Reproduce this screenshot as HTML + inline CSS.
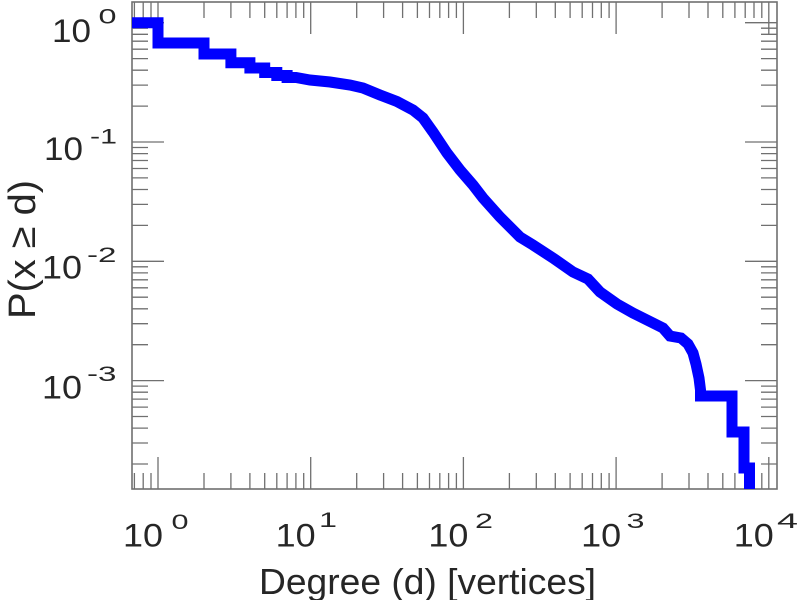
<!DOCTYPE html>
<html>
<head>
<meta charset="utf-8">
<style>
html,body{margin:0;padding:0;background:#fff;}
svg{display:block;}
text{font-family:"Liberation Sans",Arial,Helvetica,sans-serif;fill:#262626;}
</style>
</head>
<body>
<svg width="801" height="600" viewBox="0 0 801 600" xmlns="http://www.w3.org/2000/svg">
<rect x="0" y="0" width="801" height="600" fill="#fff"/>
<defs>
<clipPath id="ax"><rect x="132" y="2" width="645" height="487"/></clipPath>
</defs>

<!-- ticks -->
<g stroke="#707070" stroke-width="1.3" fill="none">
<!-- left/right majors -->
<path d="M132,22.7h32M132,142h32M132,261.3h32M132,380.6h32
M777,22.7h-32M777,142h-32M777,261.3h-32M777,380.6h-32"/>
<!-- left minors -->
<path d="M132,106.1h16M132,85.1h16M132,70.2h16M132,58.6h16M132,49.2h16M132,41.2h16M132,34.3h16M132,28.2h16
M132,225.4h16M132,204.4h16M132,189.5h16M132,177.9h16M132,168.5h16M132,160.5h16M132,153.6h16M132,147.5h16
M132,344.7h16M132,323.7h16M132,308.8h16M132,297.2h16M132,287.8h16M132,279.8h16M132,272.9h16M132,266.8h16
M132,464h16M132,443h16M132,428.1h16M132,416.5h16M132,407.1h16M132,399.1h16M132,392.2h16M132,386.1h16"/>
<!-- right minors -->
<path d="M777,106.1h-16M777,85.1h-16M777,70.2h-16M777,58.6h-16M777,49.2h-16M777,41.2h-16M777,34.3h-16M777,28.2h-16
M777,225.4h-16M777,204.4h-16M777,189.5h-16M777,177.9h-16M777,168.5h-16M777,160.5h-16M777,153.6h-16M777,147.5h-16
M777,344.7h-16M777,323.7h-16M777,308.8h-16M777,297.2h-16M777,287.8h-16M777,279.8h-16M777,272.9h-16M777,266.8h-16
M777,464h-16M777,443h-16M777,428.1h-16M777,416.5h-16M777,407.1h-16M777,399.1h-16M777,392.2h-16M777,386.1h-16"/>
<!-- bottom/top majors -->
<path d="M158,489v-32M310.7,489v-32M463.4,489v-32M616.1,489v-32M768.8,489v-32
M158,2v32M310.7,2v32M463.4,2v32M616.1,2v32M768.8,2v32"/>
<!-- bottom minors -->
<path d="M134.4,489v-16M143.2,489v-16M151,489v-16
M204,489v-16M230.9,489v-16M249.9,489v-16M264.7,489v-16M276.8,489v-16M287.1,489v-16M295.9,489v-16M303.7,489v-16
M356.7,489v-16M383.6,489v-16M402.6,489v-16M417.4,489v-16M429.5,489v-16M439.8,489v-16M448.6,489v-16M456.4,489v-16
M509.4,489v-16M536.3,489v-16M555.3,489v-16M570.1,489v-16M582.2,489v-16M592.5,489v-16M601.3,489v-16M609.1,489v-16
M662.1,489v-16M689,489v-16M708,489v-16M722.8,489v-16M734.9,489v-16M745.2,489v-16M754,489v-16M761.8,489v-16"/>
<!-- top minors -->
<path d="M134.4,2v16M143.2,2v16M151,2v16
M204,2v16M230.9,2v16M249.9,2v16M264.7,2v16M276.8,2v16M287.1,2v16M295.9,2v16M303.7,2v16
M356.7,2v16M383.6,2v16M402.6,2v16M417.4,2v16M429.5,2v16M439.8,2v16M448.6,2v16M456.4,2v16
M509.4,2v16M536.3,2v16M555.3,2v16M570.1,2v16M582.2,2v16M592.5,2v16M601.3,2v16M609.1,2v16
M662.1,2v16M689,2v16M708,2v16M722.8,2v16M734.9,2v16M745.2,2v16M754,2v16M761.8,2v16"/>
</g>

<!-- axes box -->
<rect x="132" y="2" width="645" height="487" fill="none" stroke="#707070" stroke-width="1.6"/>

<!-- data -->
<g clip-path="url(#ax)">
<path fill="none" stroke="#0000ff" stroke-width="11" stroke-linejoin="miter" stroke-miterlimit="4"
d="M120,22.7 H158 V43 H204 V54 H230.9 V62.8 H249.9 V68 H264.7 V72.5 H276.8 V75.5 H287.1 V77.5 H296
L310,80 L330,82 L350,85 L363,88 L380,95 L397,101.5 L413,110 L423,118 L433,132 L447,153 L460,170 L473,185 L483,198
L500,217 L520,237 L533,245 L553,258 L573,272 L588,279 L600,292 L617,304 L633,313 L653,323 L663,328 L670,336
L681,338 L688,344 L693,353 L696,364 L699,378 L700.5,390 V396 H732 V432 H744 V468 H749.5 V520"/>
</g>

<!-- y tick labels -->
<g font-size="32">
<text x="52" y="42" textLength="39" lengthAdjust="spacingAndGlyphs">10</text>
<text x="44" y="160" textLength="39" lengthAdjust="spacingAndGlyphs">10</text>
<text x="42" y="278.3" textLength="40" lengthAdjust="spacingAndGlyphs">10</text>
<text x="42" y="398.3" textLength="40" lengthAdjust="spacingAndGlyphs">10</text>
</g>
<g font-size="21">
<text x="98.5" y="23.5" textLength="18" lengthAdjust="spacingAndGlyphs">0</text>
<text x="90" y="143.3" textLength="27" lengthAdjust="spacingAndGlyphs">-1</text>
<text x="87" y="262" textLength="29.5" lengthAdjust="spacingAndGlyphs">-2</text>
<text x="87" y="381" textLength="29.5" lengthAdjust="spacingAndGlyphs">-3</text>
</g>

<!-- x tick labels -->
<g font-size="32">
<text x="123" y="546.5" textLength="40" lengthAdjust="spacingAndGlyphs">10</text>
<text x="275.7" y="546.5" textLength="40" lengthAdjust="spacingAndGlyphs">10</text>
<text x="428.4" y="546.5" textLength="40" lengthAdjust="spacingAndGlyphs">10</text>
<text x="581.1" y="546.5" textLength="40" lengthAdjust="spacingAndGlyphs">10</text>
<text x="733.8" y="546.5" textLength="40" lengthAdjust="spacingAndGlyphs">10</text>
</g>
<g font-size="21">
<text x="171.5" y="529" textLength="17" lengthAdjust="spacingAndGlyphs">0</text>
<text x="319" y="527" textLength="18" lengthAdjust="spacingAndGlyphs">1</text>
<text x="475" y="528" textLength="18" lengthAdjust="spacingAndGlyphs">2</text>
<text x="626.5" y="528" textLength="18" lengthAdjust="spacingAndGlyphs">3</text>
<text x="777" y="528" textLength="21" lengthAdjust="spacingAndGlyphs">4</text>
</g>

<!-- axis titles -->
<text x="259" y="594" font-size="36" textLength="337" lengthAdjust="spacingAndGlyphs">Degree (d) [vertices]</text>
<text transform="rotate(-90)" x="-319" y="35" font-size="38" textLength="139" lengthAdjust="spacingAndGlyphs">P(x ≥ d)</text>
</svg>
</body>
</html>
